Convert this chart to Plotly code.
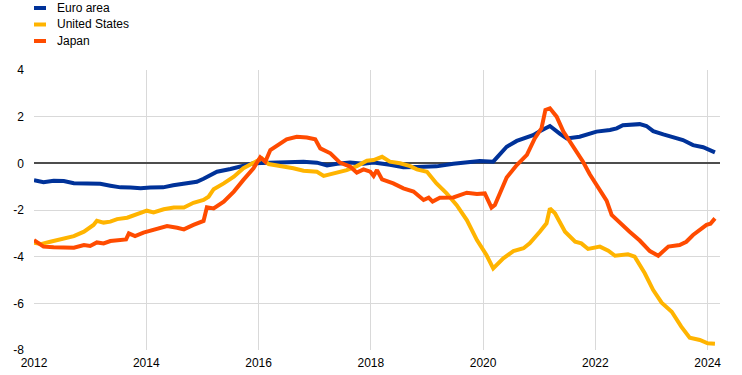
import plotly.graph_objects as go

# ---- data (decimal years) ----
euro_x = [2012.0, 2012.17, 2012.35, 2012.53, 2012.71, 2012.95, 2013.18, 2013.36, 2013.54, 2013.72,
          2013.9, 2014.07, 2014.3, 2014.48, 2014.73, 2014.9, 2015.02, 2015.14, 2015.26, 2015.5,
          2015.73, 2015.91, 2016.2, 2016.56, 2016.8, 2017.04, 2017.22, 2017.4, 2017.63, 2017.87,
          2018.05, 2018.34, 2018.58, 2018.82, 2019.17, 2019.47, 2019.77, 2019.94, 2020.18, 2020.3,
          2020.42, 2020.6, 2020.78, 2020.89, 2021.01, 2021.19, 2021.37, 2021.49, 2021.72, 2021.9,
          2022.02, 2022.26, 2022.38, 2022.49, 2022.79, 2022.91, 2023.03, 2023.21, 2023.39, 2023.56,
          2023.74, 2023.92, 2024.13]
euro_y = [-0.72, -0.81, -0.75, -0.76, -0.85, -0.88, -0.88, -0.96, -1.03, -1.04,
          -1.07, -1.04, -1.03, -0.94, -0.86, -0.79, -0.66, -0.49, -0.36, -0.24,
          -0.12, 0.0, 0.03, 0.04, 0.07, 0.03, -0.09, -0.02, 0.03, -0.02,
          0.04, -0.06, -0.17, -0.16, -0.13, -0.02, 0.07, 0.1, 0.07, 0.36,
          0.71, 0.96, 1.1, 1.21, 1.38, 1.6, 1.26, 1.07, 1.14, 1.26,
          1.36, 1.43, 1.5, 1.63, 1.68, 1.6, 1.38, 1.24, 1.11, 1.0,
          0.78, 0.69, 0.47]

us_x = [2012.0, 2012.12, 2012.29, 2012.53, 2012.71, 2012.89, 2013.06, 2013.12, 2013.24, 2013.36,
        2013.48, 2013.66, 2013.78, 2014.01, 2014.13, 2014.31, 2014.49, 2014.67, 2014.84, 2015.02,
        2015.11, 2015.2, 2015.38, 2015.56, 2015.73, 2015.97, 2016.06, 2016.18, 2016.39, 2016.62,
        2016.8, 2017.04, 2017.16, 2017.33, 2017.57, 2017.75, 2017.93, 2018.05, 2018.2, 2018.34,
        2018.52, 2018.7, 2018.82, 2019.0, 2019.17, 2019.35, 2019.53, 2019.71, 2019.89, 2020.06,
        2020.18, 2020.36, 2020.54, 2020.72, 2020.83, 2021.01, 2021.13, 2021.19, 2021.28, 2021.46,
        2021.64, 2021.75, 2021.87, 2022.08, 2022.23, 2022.35, 2022.58, 2022.7, 2022.88, 2023.03,
        2023.18, 2023.36, 2023.53, 2023.68, 2023.86, 2024.0, 2024.13]
us_y = [-3.40, -3.46, -3.36, -3.22, -3.12, -2.93, -2.64, -2.46, -2.54, -2.50,
        -2.39, -2.33, -2.22, -2.03, -2.10, -1.97, -1.89, -1.89, -1.69, -1.57,
        -1.43, -1.11, -0.86, -0.57, -0.21, 0.07, 0.21, -0.03, -0.10, -0.21,
        -0.32, -0.36, -0.54, -0.43, -0.29, -0.12, 0.11, 0.14, 0.28, 0.07,
        0.0, -0.12, -0.26, -0.36, -0.86, -1.29, -1.79, -2.43, -3.29, -3.93,
        -4.5, -4.07, -3.76, -3.64, -3.43, -2.93, -2.57, -1.93, -2.14, -2.93,
        -3.36, -3.43, -3.67, -3.57, -3.74, -3.96, -3.9, -4.0, -4.71, -5.43,
        -5.97, -6.36, -7.0, -7.47, -7.57, -7.71, -7.73]

japan_x = [2012.0, 2012.17, 2012.35, 2012.53, 2012.71, 2012.89, 2013.0, 2013.12, 2013.24, 2013.36,
           2013.54, 2013.64, 2013.69, 2013.8, 2013.95, 2014.07, 2014.19, 2014.37, 2014.55, 2014.67,
           2014.84, 2015.02, 2015.08, 2015.2, 2015.38, 2015.56, 2015.73, 2015.91, 2016.03, 2016.12,
           2016.21, 2016.33, 2016.5, 2016.68, 2016.86, 2017.01, 2017.1, 2017.28, 2017.45, 2017.63,
           2017.75, 2017.87, 2017.99, 2018.05, 2018.11, 2018.2, 2018.4, 2018.58, 2018.76, 2018.94,
           2019.03, 2019.1, 2019.23, 2019.47, 2019.71, 2019.89, 2020.03, 2020.15, 2020.21, 2020.42,
           2020.6, 2020.78, 2020.92, 2021.04, 2021.11, 2021.19, 2021.31, 2021.43, 2021.61, 2021.78,
           2021.9, 2022.08, 2022.2, 2022.29, 2022.44, 2022.61, 2022.79, 2022.97, 2023.12, 2023.21,
           2023.3, 2023.5, 2023.62, 2023.74, 2023.86, 2023.98, 2024.05, 2024.13]
japan_y = [-3.29, -3.57, -3.6, -3.63, -3.62, -3.5, -3.54, -3.39, -3.43, -3.33,
           -3.26, -3.26, -3.0, -3.12, -2.97, -2.89, -2.79, -2.69, -2.76, -2.83,
           -2.64, -2.47, -1.88, -1.93, -1.64, -1.21, -0.71, -0.21, 0.26, 0.07,
           0.57, 0.78, 1.03, 1.14, 1.11, 1.03, 0.64, 0.43, 0.03, -0.14,
           -0.4, -0.26, -0.36, -0.54, -0.29, -0.69, -0.86, -1.07, -1.21, -1.57,
           -1.47, -1.64, -1.47, -1.46, -1.26, -1.31, -1.29, -1.9, -1.79, -0.61,
           -0.07, 0.36, 1.07, 1.5, 2.29, 2.36, 2.0, 1.36, 0.71, 0.07,
           -0.47, -1.18, -1.6, -2.21, -2.57, -2.93, -3.31, -3.76, -3.96, -3.79,
           -3.57, -3.5, -3.36, -3.07, -2.86, -2.64, -2.59, -2.36]

series_names = ["Euro area", "United States", "Japan"]
series_colors = ["#003299", "#FFB400", "#FF4B00"]

x_tickvals = [2012, 2014, 2016, 2018, 2020, 2022, 2024]
x_ticktext = ["2012", "2014", "2016", "2018", "2020", "2022", "2024"]
y_tickvals = [4, 2, 0, -2, -4, -6, -8]
y_ticktext = ["4", "2", "0", "-2", "-4", "-6", "-8"]

FONT = "Liberation Sans, Arial, sans-serif"
W, H = 742, 375
# plot area in pixels: x 34..720, y 70..350
ML, MR, MT, MB = 34, W - 720, 70, H - 350

fig = go.Figure()
for name, color, xs, ys in zip(series_names, series_colors,
                               [euro_x, us_x, japan_x], [euro_y, us_y, japan_y]):
    fig.add_trace(go.Scatter(x=xs, y=ys, mode="lines", name=name,
                             line=dict(color=color, width=4), showlegend=False,
                             hoverinfo="skip"))

# manual legend (top-left), positioned in paper coordinates
pw, ph = W - ML - MR, H - MT - MB
def px_to_paper_x(px):
    return (px - ML) / pw
def px_to_paper_y(py):
    return (H - MB - py) / ph

shapes = []
annotations = []
for i, (name, color) in enumerate(zip(series_names, series_colors)):
    yc = 8 + i * 16.5
    shapes.append(dict(type="line", xref="paper", yref="paper",
                       x0=px_to_paper_x(34), x1=px_to_paper_x(46),
                       y0=px_to_paper_y(yc), y1=px_to_paper_y(yc),
                       line=dict(color=color, width=4)))
    annotations.append(dict(xref="paper", yref="paper",
                            x=px_to_paper_x(55), y=px_to_paper_y(yc),
                            xanchor="left", yanchor="middle", showarrow=False,
                            text=name, font=dict(family=FONT, size=12, color="#000000")))

fig.update_layout(
    width=W, height=H,
    margin=dict(l=ML, r=MR, t=MT, b=MB, pad=0, autoexpand=False),
    paper_bgcolor="white", plot_bgcolor="white",
    font=dict(family=FONT, size=12, color="#000000"),
    showlegend=False,
    shapes=shapes, annotations=annotations,
    xaxis=dict(range=[2012, 2024.22], tickvals=x_tickvals, ticktext=x_ticktext,
               showgrid=True, gridcolor="#d9d9d9", gridwidth=1,
               zeroline=False, showline=False, ticks="", ticklabelstandoff=4,
               tickfont=dict(family=FONT, size=12, color="#000000")),
    yaxis=dict(range=[-8, 4], tickvals=y_tickvals, ticktext=y_ticktext,
               showgrid=True, gridcolor="#d9d9d9", gridwidth=1,
               zeroline=True, zerolinecolor="#4d4d4d", zerolinewidth=2,
               showline=False, ticks="", ticklabelstandoff=9,
               tickfont=dict(family=FONT, size=12, color="#000000")),
)

# remove the default 8px page margin so the figure fills the window exactly
fig.write_html("out.html",
               config={"displayModeBar": False, "staticPlot": True},
               post_script="document.body.style.margin='0';"
                           "document.documentElement.style.overflow='hidden';")
